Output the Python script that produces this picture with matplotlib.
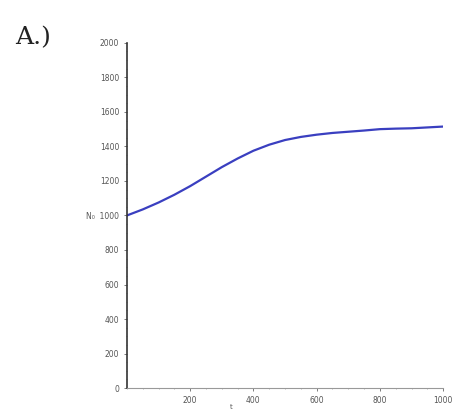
import matplotlib
matplotlib.use("Agg")
import matplotlib.pyplot as plt
import numpy as np

t = [0, 50, 100, 150, 200, 250, 300, 350, 400, 450, 500, 550, 600, 650, 700, 750, 800, 850, 900, 950, 1000]
N = [1000, 1035, 1075, 1120, 1170, 1225, 1280, 1330, 1375, 1410, 1437, 1455, 1468, 1478, 1485, 1492, 1500, 1503, 1505, 1510, 1515]
yticks = [0, 200, 400, 600, 800, 1000, 1200, 1400, 1600, 1800, 2000]
xticks = [200, 400, 600, 800, 1000]

fig = plt.figure(figsize=(4.55, 4.2), dpi=100)
ax = fig.add_axes([0.279, 0.076, 0.695, 0.822])
ax.plot(t, N, color="#3a3fc0", lw=1.6)
ax.set_xlim(0, 1000)
ax.set_ylim(0, 2000)
ax.set_yticks(yticks)
ax.set_xticks(xticks)
ylabels = [str(v) for v in yticks]
ylabels[5] = "N\u2080  1000"
ax.set_yticklabels(ylabels)
ax.set_yticks(np.arange(0, 2001, 50), minor=True)
ax.set_xticks(np.arange(0, 1001, 50), minor=True)
for s in ["top", "right"]:
    ax.spines[s].set_visible(False)
ax.spines["left"].set_color("#333333")
ax.spines["left"].set_linewidth(1.2)
ax.spines["bottom"].set_color("#999999")
ax.spines["bottom"].set_linewidth(0.8)
ax.tick_params(axis="both", labelsize=5.5, colors="#666666", length=2, width=0.6)
ax.tick_params(which="minor", length=1, width=0.5, colors="#999999")
ax.tick_params(axis="y", labelcolor="#555555")
ax.tick_params(axis="x", labelcolor="#555555")
ax.set_xlabel("t", fontsize=5, color="#555555", labelpad=6)
ax.xaxis.set_label_coords(0.33, -0.045)
fig.text(0.033, 0.895, "A.)", fontsize=18, family="serif", color="#222222")
fig.savefig("out.png", dpi=100)
